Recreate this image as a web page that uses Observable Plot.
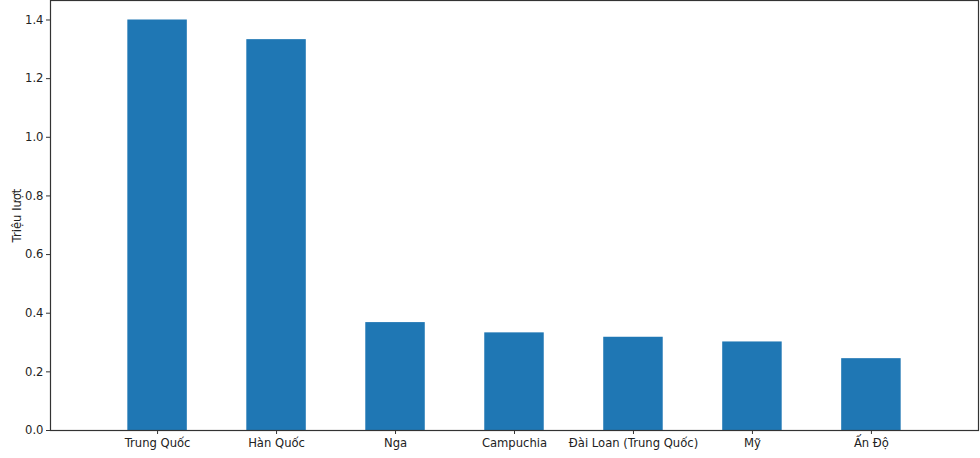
<!DOCTYPE html>
<html>
<head>
<meta charset="utf-8">
<script src="https://cdn.jsdelivr.net/npm/d3@7"></script>
<script src="https://cdn.jsdelivr.net/npm/@observablehq/plot@0.6"></script>
<style>
  html, body { margin: 0; padding: 0; background: #fff; }
</style>
</head>
<body>
<div id="chart"></div>
<script>
const categories = ["Trung Quốc", "Hàn Quốc", "Nga", "Campuchia", "Đài Loan (Trung Quốc)", "Mỹ", "Ấn Độ"];
const values = [1.40, 1.333, 0.368, 0.333, 0.318, 0.302, 0.245];
const yTicks = [0, 0.2, 0.4, 0.6, 0.8, 1.0, 1.2, 1.4];
const yLabel = "Triệu lượt";

const data = categories.map((c, i) => ({country: c, value: values[i]}));

const chart = Plot.plot({
  width: 980,
  height: 458,
  marginLeft: 50,
  marginRight: 2,
  marginTop: 0,
  marginBottom: 28,
  style: {fontFamily: "DejaVu Sans", fontSize: "11.6px", color: "#222", background: "#fff"},
  x: {domain: categories, paddingInner: 0.5, paddingOuter: 0.65, round: false},
  y: {domain: [0, 1.4665]},
  marks: [
    Plot.barY(data, {x: "country", y: "value", fill: "#1f77b4"}),
    Plot.frame({stroke: "#333", strokeWidth: 1.2}),
    Plot.axisX({tickSize: 4, tickPadding: 4, label: null, stroke: "#333"}),
    Plot.axisY({ticks: yTicks, tickSize: 4, tickPadding: 3, tickFormat: d3.format(".1f"),
      label: yLabel, labelAnchor: "center", labelOffset: 38, labelArrow: "none", stroke: "#333"})
  ]
});
document.getElementById("chart").appendChild(chart);
</script>
</body>
</html>
